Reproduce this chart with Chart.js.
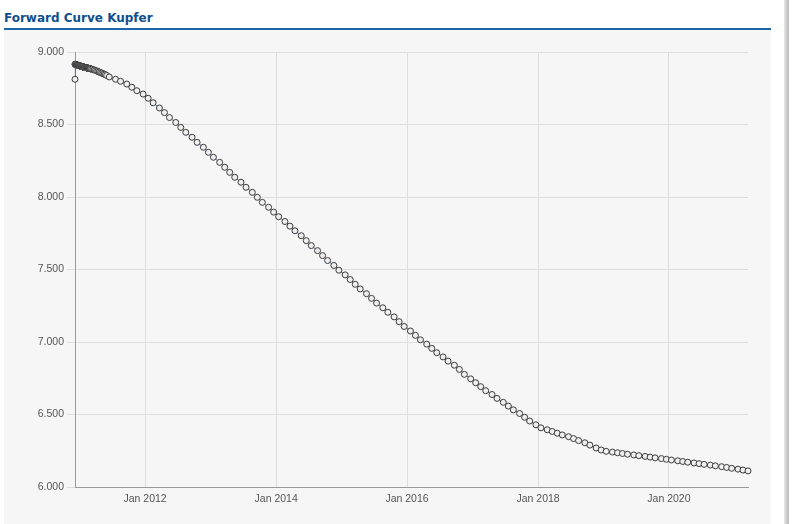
<!DOCTYPE html>
<html><head><meta charset="utf-8">
<script src="https://cdn.jsdelivr.net/npm/chart.js@4.4.0/dist/chart.umd.min.js"></script>
<style>
html,body{margin:0;padding:0;background:#fff;width:795px;height:524px;overflow:hidden;}
#title{position:absolute;left:4px;top:11px;font:bold 12px "DejaVu Sans";line-height:14px;color:#0f4f8c;white-space:nowrap;}
#rule{position:absolute;left:4px;top:28px;width:767px;height:2px;background:#1a65a8;}
#panel{position:absolute;left:4px;top:30px;width:767px;height:494px;background:#f6f6f6;}
#shadow{position:absolute;left:784px;top:0;width:5px;height:524px;background:linear-gradient(to right,#e6e6e6,#b9b9b9);}
#c{position:absolute;left:0;top:0;}
</style></head><body>
<div id="title">Forward Curve Kupfer</div>
<div id="rule"></div>
<div id="panel"></div>
<div id="shadow"></div>
<canvas id="c" width="795" height="524"></canvas>
<script>
// ---- data ----
const startDate = [2010, 11, 6];          // first prompt date (6 Dec 2010)
const spotValue = 8812;                   // cash price
const dailyValues = [
  8916,8915,8915,8914,8913,8913,8912,8912,8911,8910,
  8910,8909,8909,8908,8907,8907,8906,8906,8905,8905,
  8904,8904,8903,8902,8902,8901,8901,8900,8900,8899,
  8899,8898,8898,8897,8897,8896,8896,8895,8895,8894,
  8894,8893,8893,8893,8892,8892,8891,8891,8890,8890,
  8890,8889,8889,8888,8888,8887,8887,8887,8886,8886,
  8885,8885,8884,8884
];
const weeklyStart = [2011, 2, 9];         // Wednesdays from 9 Mar 2011
const weeklyValues = [8882,8879,8876,8873,8869,8866,8862,8858,8855,8851,8847,8843,8838];
const monthlyStart = [2011, 5];           // third Wednesdays from June 2011
const monthlyValues = [
  8828,8812,8798,8779,8757,8733,8710,
  8681,8650,8614,8582,8548,8514,8480,8446,8412,8377,8343,8308,
  8274,8239,8205,8170,8136,8102,8067,8032,7998,7963,7929,7896,
  7864,7831,7799,7767,7733,7699,7665,7630,7596,7562,7528,7495,
  7463,7431,7398,7366,7333,7301,7268,7236,7205,7173,7140,7107,
  7076,7046,7015,6985,6956,6926,6897,6868,6840,6811,6777,6746,
  6719,6692,6664,6638,6611,6584,6558,6532,6507,6481,6455,6429,
  6408,6395,6383,6371,6359,6347,6334,6320,6305,6289,6269,6255,
  6246,6241,6236,6231,6226,6221,6216,6211,6206,6201,6196,6191,
  6186,6181,6176,6171,6166,6161,6156,6151,6146,6140,6135,6129,
  6123,6117,6111
];
const tickYears = [2012, 2014, 2016, 2018, 2020];
const yTicks = [6000, 6500, 7000, 7500, 8000, 8500, 9000];

// ---- build points (dates) ----
const DAY = 86400000;
const pts = [];
let t = Date.UTC(startDate[0], startDate[1], startDate[2]);
pts.push({x: t, y: spotValue});
let i = 0;
while (i < dailyValues.length) {
  const wd = new Date(t).getUTCDay();
  if (wd !== 0 && wd !== 6) { pts.push({x: t, y: dailyValues[i]}); i++; }
  t += DAY;
}
let w = Date.UTC(weeklyStart[0], weeklyStart[1], weeklyStart[2]);
weeklyValues.forEach((v, k) => pts.push({x: w + k * 7 * DAY, y: v}));
monthlyValues.forEach((v, k) => {
  const y = monthlyStart[0] + Math.floor((monthlyStart[1] + k) / 12);
  const m = (monthlyStart[1] + k) % 12;
  const first = new Date(Date.UTC(y, m, 1)).getUTCDay();
  const firstWed = 1 + ((3 - first + 7) % 7);
  pts.push({x: Date.UTC(y, m, firstWed + 14), y: v});
});
const xMin = pts[0].x, xMax = pts[pts.length - 1].x;

const tickFont = {family: '"Liberation Sans", Arial, sans-serif', size: 10.5};
new Chart(document.getElementById('c'), {
  type: 'line',
  data: {datasets: [{
    data: pts,
    clip: false,
    borderColor: '#4572A7', borderWidth: 1,
    pointRadius: 3, pointBorderWidth: 1,
    pointBorderColor: '#3a3a3a', pointBackgroundColor: '#efefef',
    tension: 0, fill: false
  }]},
  options: {
    responsive: false, animation: false, devicePixelRatio: 1,
    layout: {padding: {left: 0, top: 52, right: 47, bottom: 0}},
    plugins: {legend: {display: false}, tooltip: {enabled: false}},
    scales: {
      x: {
        type: 'linear', min: xMin, max: xMax,
        afterBuildTicks: s => { s.ticks = tickYears.map(y => ({value: Date.UTC(y, 0, 1)})); },
        afterFit: s => { s.height = 37; },
        grid: {color: '#dedede', drawTicks: false},
        border: {color: '#999'},
        ticks: {padding: 6, color: '#555', font: tickFont, maxRotation: 0, autoSkip: false,
          callback: v => 'Jan ' + new Date(v).getUTCFullYear()}
      },
      y: {
        min: 6000, max: 9000,
        afterBuildTicks: s => { s.ticks = yTicks.map(v => ({value: v})); },
        afterFit: s => { s.width = 75; },
        grid: {color: '#dedede', tickLength: 8},
        border: {color: '#999'},
        ticks: {padding: 3, color: '#555', font: tickFont,
          callback: v => (v / 1000).toFixed(3)}
      }
    }
  }
});
</script>
</body></html>
